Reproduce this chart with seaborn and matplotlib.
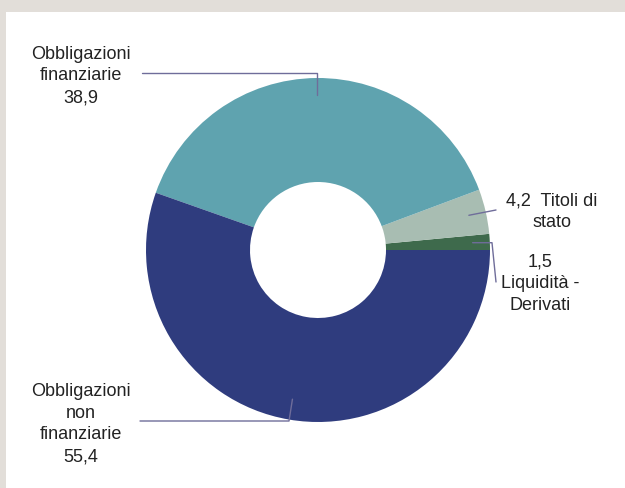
#!/usr/bin/env python3

import numpy as np
import matplotlib
matplotlib.use("Agg")
import matplotlib.pyplot as plt
import seaborn as sns

# dati del grafico (quote %)
categorie = ["Liquidità -\nDerivati", "Titoli di\nstato", "Obbligazioni\nfinanziarie", "Obbligazioni\nnon\nfinanziarie"]
valori = [1.5, 4.2, 38.9, 55.4]
etichette_valori = ["1,5", "4,2", "38,9", "55,4"]
colori = ["#3e6a4c", "#a8bdb2", "#5fa3af", "#2f3c7e"]

sns.set_style("white")
plt.rcParams['font.family'] = ['Liberation Sans', 'DejaVu Sans']

W, H = 625, 488
CX, CY, R = 318, 250, 172
fig = plt.figure(figsize=(W / 100, H / 100), dpi=100)
fig.patch.set_facecolor("#e2ded9")

# pannello bianco
fig.patches.append(plt.Rectangle((6 / W, 0), 1, 1 - 12 / H, transform=fig.transFigure,
                                 facecolor="white", edgecolor="none", zorder=-1))

ax = fig.add_axes([0, 0, 1, 1])


def px(x, y):
    # coordinate pixel -> coordinate dati
    return (x - CX) / R, (CY - y) / R


wedges, _ = ax.pie(valori, colors=sns.color_palette(colori), startangle=0, counterclock=True,
                   radius=1, wedgeprops=dict(width=1 - 68 / R, edgecolor="none"))

ax.set_xlim(-CX / R, (W - CX) / R)
ax.set_ylim(-(H - CY) / R, CY / R)
ax.set_aspect("equal")
ax.axis("off")
ax.patch.set_alpha(0)

# angoli medi dei settori
angoli = []
for w in wedges:
    angoli.append(np.deg2rad((w.theta1 + w.theta2) / 2))

col_linea = "#6f6d9a"
col_testo = "#222222"
fs = 13
ls = 1.36


def punto(i, r):
    return r * np.cos(angoli[i]), r * np.sin(angoli[i])


# Liquidità - Derivati
x0, y0 = punto(0, 0.9)
x1, y1 = px(492, 242)
x2, y2 = px(496, 282)
ax.plot([x0, x1, x2], [y0, y0, y2], color=col_linea, lw=1)
tx, ty = px(540, 284)
ax.text(tx, ty, etichette_valori[0] + "\n" + categorie[0], ha="center", va="center",
        fontsize=fs, linespacing=ls, color=col_testo)

# Titoli di stato
x0, y0 = punto(1, 0.9)
x1, y1 = px(496, 210)
ax.plot([x0, x1], [y0, y1], color=col_linea, lw=1)
tx, ty = px(552, 212)
ax.text(tx, ty, etichette_valori[1] + "  " + categorie[1], ha="center", va="center",
        fontsize=fs, linespacing=ls, color=col_testo)

# Obbligazioni finanziarie
x0, y0 = punto(2, 0.9)
x1, y1 = px(142, 73)
ax.plot([x0, x0, x1], [y0, y1, y1], color=col_linea, lw=1)
tx, ty = px(81, 76)
ax.text(tx, ty, categorie[2] + "\n" + etichette_valori[2], ha="center", va="center",
        fontsize=fs, linespacing=ls, color=col_testo)

# Obbligazioni non finanziarie
x0, y0 = punto(3, 0.88)
x1, y1 = px(140, 421)
ax.plot([x0, x0 - 0.02, x1], [y0, y1, y1], color=col_linea, lw=1)
tx, ty = px(81, 424)
ax.text(tx, ty, categorie[3] + "\n" + etichette_valori[3], ha="center", va="center",
        fontsize=fs, linespacing=ls, color=col_testo)

plt.savefig("out.png", dpi=100, facecolor=fig.get_facecolor())
